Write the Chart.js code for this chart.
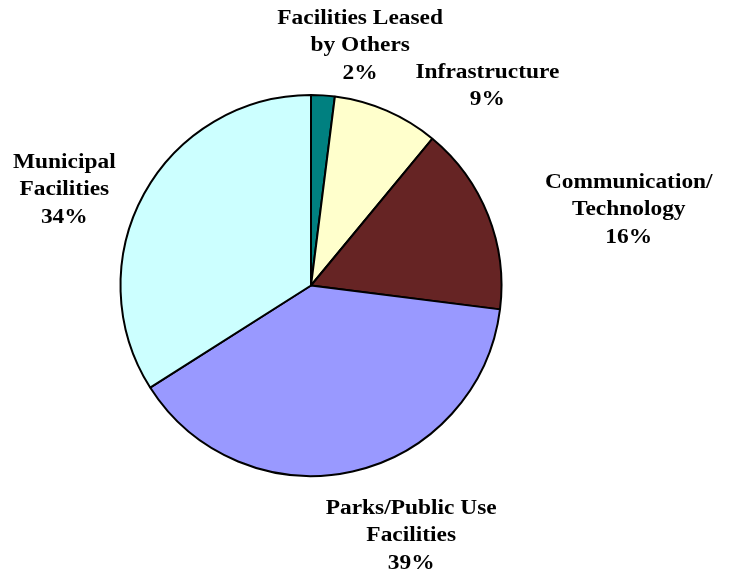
<!DOCTYPE html>
<html>
<head>
<meta charset="utf-8">
<script src="https://cdn.jsdelivr.net/npm/chart.js@4.4.0/dist/chart.umd.min.js"></script>
<style>
  html, body { margin: 0; padding: 0; background: #fff; }
  #wrap { width: 731px; height: 576px; }
</style>
</head>
<body>
<div id="wrap"><canvas id="pieChart"></canvas></div>
<script>
// data
const categories = [
    ['Facilities Leased', 'by Others'],
    ['Infrastructure'],
    ['Communication/', 'Technology'],
    ['Parks/Public Use', 'Facilities'],
    ['Municipal', 'Facilities']
];
const shares = [2, 9, 16, 39, 34];
const sliceColors = ['#008080', '#FFFFCC', '#662424', '#9999FF', '#CCFFFF'];

// where each label block sits, in units of the pie radius from its centre
const labelOffsets = [
    [0.258, -1.258],
    [0.926, -1.045],
    [1.668, -0.397],
    [0.526, 1.316],
    [-1.295, -0.5]
];

const outsideLabels = {
    id: 'outsideLabels',
    afterDatasetsDraw(chart) {
        const ctx = chart.ctx;
        const arcs = chart.getDatasetMeta(0).data;
        if (!arcs.length) return;
        const cx = arcs[0].x, cy = arcs[0].y, r = arcs[0].outerRadius;
        const lineH = 27.5;
        const stretch = 1.17; // reference text is drawn wide
        arcs.forEach((arc, i) => {
            const lines = categories[i].concat([shares[i] + '%']);
            const x = cx + labelOffsets[i][0] * r;
            const y = cy + labelOffsets[i][1] * r;
            const top = y - (lines.length - 1) * lineH / 2;
            ctx.save();
            ctx.translate(x, 0);
            ctx.scale(stretch, 1);
            ctx.font = 'bold 20px "Liberation Serif", "Times New Roman", serif';
            ctx.fillStyle = '#000';
            ctx.textAlign = 'center';
            ctx.textBaseline = 'middle';
            lines.forEach((t, j) => ctx.fillText(t, 0, top + j * lineH));
            ctx.restore();
        });
    }
};

new Chart(document.getElementById('pieChart'), {
    type: 'pie',
    data: {
        labels: categories.map(c => c.join(' ')),
        datasets: [{
            data: shares,
            backgroundColor: sliceColors,
            borderColor: '#000',
            borderWidth: 2
        }]
    },
    options: {
        responsive: true,
        maintainAspectRatio: false,
        animation: false,
        layout: { padding: { top: 94, bottom: 99, left: 119, right: 228 } },
        plugins: {
            legend: { display: false },
            tooltip: { enabled: false }
        }
    },
    plugins: [outsideLabels]
});
</script>
</body>
</html>
